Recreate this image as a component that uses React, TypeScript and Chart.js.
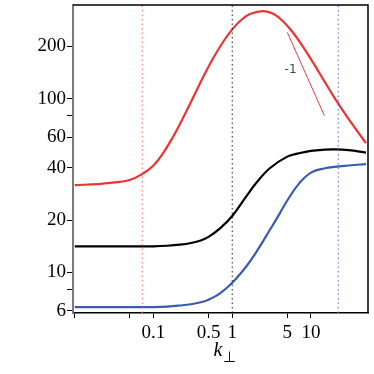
import React, { useEffect, useRef } from "react";
import { Chart, registerables } from "chart.js";

Chart.register(...registerables);

const redK = [0.01, 0.02, 0.03, 0.05, 0.0718, 0.0991, 0.133, 0.178, 0.238, 0.32, 0.428, 0.574, 0.768, 1, 1.32, 1.68, 2.48, 3.32, 4.45, 5.96, 7.98, 10.7, 14.3, 19.2, 28.4, 38.1, 50];
const redValues = [31.8, 32.2, 32.8, 34.0, 36.8, 41.1, 48.7, 60.5, 77.6, 101.9, 133.2, 171.4, 212.6, 250.5, 285.4, 306.8, 319.0, 308.0, 278.0, 238.8, 198.1, 160.5, 129.1, 103.8, 79.2, 65.6, 55.4];

const blackK = [0.01, 0.05, 0.1, 0.15, 0.2165, 0.3, 0.398, 0.5, 0.7, 1, 1.5, 2, 3, 5, 7, 10, 15, 20, 30, 50];
const blackValues = [14.12, 14.12, 14.12, 14.22, 14.42, 14.75, 15.25, 16.0, 17.9, 21.1, 27.26, 32.56, 39.72, 46.35, 48.4, 50.0, 50.8, 51.0, 50.5, 48.9];

const blueK = [0.01, 0.05, 0.1, 0.15, 0.2165, 0.3, 0.398, 0.5, 0.7, 1, 1.5, 2, 3, 4, 5, 7, 10, 15, 20, 30, 50];
const blueValues = [6.31, 6.31, 6.31, 6.35, 6.44, 6.55, 6.72, 6.95, 7.57, 8.71, 10.77, 12.97, 17.52, 21.78, 25.9, 32.3, 37.5, 39.7, 40.5, 41.2, 42.0];

const xMin = 0.0095;
const xMax = 53;
const yMin = 5.83;
const yMax = 346;

const redMarker = 0.072;
const blackMarker = 1;
const blueMarker = 22.2;

const slopeK = [5, 14.8];
const slopeValues = [241, 79.8];
const slopeLabel = "-1";
const slopeLabelK = 5.5;
const slopeLabelValue = 146;

const xTicks = [0.01, 0.05, 0.1, 0.5, 1, 5, 10];
const xTickLabels = ["", "", "0.1", "0.5", "1", "5", "10"];
const yTicks = [6, 8, 10, 20, 40, 60, 80, 100, 200];
const yTickLabels = ["6", "", "10", "20", "40", "60", "", "100", "200"];

const pts = (xs: number[], ys: number[]) => xs.map((x, i) => ({ x, y: ys[i] }));

export default function App() {
  const ref = useRef<HTMLCanvasElement | null>(null);
  useEffect(() => {
    if (!ref.current) return;
    const serif = '"Liberation Serif", "Times New Roman", serif';
    const framePlugin = {
      id: "frame",
      afterDatasetsDraw(chart: any) {
        const { ctx, chartArea, scales } = chart;
        const { left, top, right, bottom } = chartArea;
        ctx.save();
        ctx.strokeStyle = "#000";
        ctx.lineWidth = 1.5;
        ctx.beginPath();
        ctx.moveTo(left, top);
        ctx.lineTo(right, top);
        ctx.lineTo(right, bottom);
        ctx.stroke();
        ctx.fillStyle = "#444";
        ctx.font = '12px "DejaVu Sans", sans-serif';
        ctx.textAlign = "center";
        ctx.textBaseline = "middle";
        ctx.fillText(slopeLabel, scales.x.getPixelForValue(slopeLabelK), scales.y.getPixelForValue(slopeLabelValue));
        ctx.restore();
      },
      afterDraw(chart: any) {
        const { ctx, chartArea } = chart;
        const cx = (chartArea.left + chartArea.right) / 2;
        ctx.save();
        ctx.fillStyle = "#000";
        ctx.textBaseline = "alphabetic";
        ctx.textAlign = "right";
        ctx.font = "italic 20px " + serif;
        ctx.fillText("k", cx + 2, 356);
        ctx.textAlign = "left";
        ctx.font = "15px " + serif;
        ctx.fillText("\u22A5", cx + 2, 362);
        ctx.restore();
      },
    };
    const vline = (k: number, color: string) => ({
      data: pts([k, k], [yMin, yMax]),
      borderColor: color,
      borderWidth: 1,
      borderDash: [1.5, 3],
      pointRadius: 0,
      tension: 0,
    });
    const curve = (xs: number[], ys: number[], color: string) => ({
      data: pts(xs, ys),
      borderColor: color,
      borderWidth: 2.2,
      pointRadius: 0,
      tension: 0.4,
    });
    const chart = new Chart(ref.current, {
      type: "line",
      data: {
        datasets: [
          vline(redMarker, "#ff6b6b"),
          vline(blackMarker, "#222222"),
          vline(blueMarker, "#4a6fd0"),
          { data: pts(slopeK, slopeValues), borderColor: "#dd4040", borderWidth: 1, pointRadius: 0 },
          curve(redK, redValues, "#ee3333"),
          curve(blackK, blackValues, "#000000"),
          curve(blueK, blueValues, "#3a5bb0"),
        ] as any,
      },
      options: {
        animation: false,
        responsive: false,
        events: [],
        layout: { padding: { top: 5, right: 6, left: 0, bottom: 0 } },
        plugins: { legend: { display: false }, tooltip: { enabled: false } },
        scales: {
          x: {
            type: "logarithmic",
            min: xMin,
            max: xMax,
            afterBuildTicks: (s: any) => {
              s.ticks = xTicks.map((v) => ({ value: v }));
            },
            afterFit: (s: any) => {
              s.height = 61;
              s.paddingLeft = 0;
              s.paddingRight = 0;
            },
            ticks: {
              autoSkip: false,
              maxRotation: 0,
              padding: 4,
              color: "#000",
              font: { family: serif, size: 19 },
              callback: (v: any) => {
                const i = xTicks.indexOf(Number(v));
                return i >= 0 ? xTickLabels[i] : "";
              },
            },
            grid: { drawOnChartArea: false, drawTicks: true, tickLength: 5, tickColor: "#000" },
            border: { color: "#000", width: 1.5 },
          },
          y: {
            type: "logarithmic",
            min: yMin,
            max: yMax,
            afterBuildTicks: (s: any) => {
              s.ticks = yTicks.map((v) => ({ value: v }));
            },
            afterFit: (s: any) => {
              s.width = 73;
              s.paddingTop = 0;
              s.paddingBottom = 0;
            },
            ticks: {
              autoSkip: false,
              padding: 1,
              color: "#000",
              font: { family: serif, size: 19 },
              callback: (v: any) => {
                const i = yTicks.indexOf(Number(v));
                return i >= 0 ? yTickLabels[i] : "";
              },
            },
            grid: { drawOnChartArea: false, drawTicks: true, tickLength: 6, tickColor: "#000" },
            border: { color: "#7a7a7a", width: 2 },
          },
        },
      } as any,
      plugins: [framePlugin],
    });
    return () => chart.destroy();
  }, []);
  return (
    <div style={{ position: "fixed", left: 0, top: 0, width: 374, height: 374, background: "#fff" }}>
      <canvas ref={ref} width={374} height={374} style={{ width: 374, height: 374 }} />
    </div>
  );
}
